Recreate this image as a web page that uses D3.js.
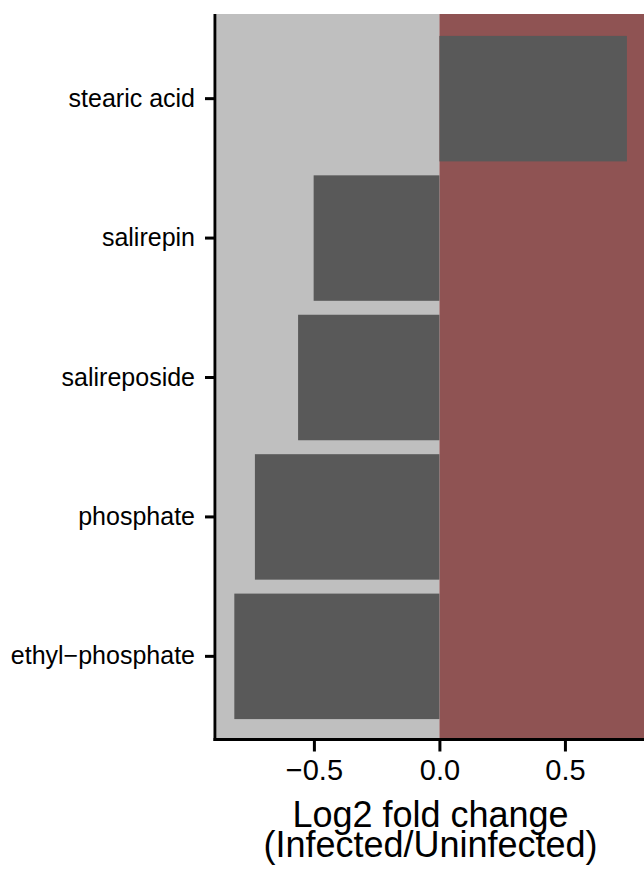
<!DOCTYPE html>
<html>
<head>
<meta charset="utf-8">
<script src="https://cdn.jsdelivr.net/npm/d3@7"></script>
<style>
  body { margin: 0; background: #fff; }
  text { font-family: "Liberation Sans", Arial, Helvetica, sans-serif; }
</style>
</head>
<body>
<div id="chart"></div>
<script>
// data
const metabolites = ["stearic acid", "salirepin", "salireposide", "phosphate", "ethyl\u2212phosphate"];
const log2fc = [0.747, -0.501, -0.563, -0.735, -0.817];
const xTicks = [-0.5, 0.0, 0.5];
const xDomain = [-0.886, 0.815];
const titleLines = ["Log2 fold change", "(Infected/Uninfected)"];

const width = 644, height = 874;
const margin = {top: 14, right: 0, bottom: 136, left: 217};
const panelBottom = height - margin.bottom;

const svg = d3.select("#chart")
    .append("svg")
    .attr("width", width)
    .attr("height", height);

const x = d3.scaleLinear()
    .domain(xDomain)
    .range([margin.left, width - margin.right]);

const y = d3.scaleBand()
    .domain(metabolites)
    .range([margin.top + 1, panelBottom + 2])
    .paddingInner(0.1)
    .paddingOuter(0.15);

// background halves: grey for negative, red for positive
svg.append("rect")
    .attr("x", x(xDomain[0]))
    .attr("y", margin.top)
    .attr("width", x(0) - x(xDomain[0]))
    .attr("height", panelBottom - margin.top)
    .style("fill", "#bfbfbf");

svg.append("rect")
    .attr("x", x(0))
    .attr("y", margin.top)
    .attr("width", x(xDomain[1]) - x(0))
    .attr("height", panelBottom - margin.top)
    .style("fill", "#8f5353");

// bars
svg.append("g")
    .selectAll("rect")
    .data(metabolites)
    .join("rect")
    .attr("x", (d, i) => x(Math.min(0, log2fc[i])))
    .attr("y", d => y(d))
    .attr("width", (d, i) => Math.abs(x(log2fc[i]) - x(0)))
    .attr("height", y.bandwidth())
    .style("fill", "#595959");

// x axis
const xAxis = svg.append("g")
    .attr("transform", "translate(0," + (panelBottom + 1.5) + ")")
    .call(d3.axisBottom(x).tickValues(xTicks).tickFormat(d3.format(".1f")).tickSize(12).tickPadding(8));
xAxis.select(".domain")
    .attr("d", "M" + (margin.left - 3.5) + ",0H" + width)
    .style("stroke", "#000")
    .style("stroke-width", 3);
xAxis.selectAll(".tick line").style("stroke", "#000").style("stroke-width", 3);
xAxis.selectAll(".tick text")
    .style("font-size", "29px")
    .style("fill", "#000");

// y axis
const yAxis = svg.append("g")
    .attr("transform", "translate(" + (margin.left - 2) + ",0)")
    .call(d3.axisLeft(y).tickSize(10).tickPadding(10));
yAxis.select(".domain")
    .attr("d", "M0," + margin.top + "V" + (panelBottom + 3))
    .style("stroke", "#000")
    .style("stroke-width", 3);
yAxis.selectAll(".tick line").style("stroke", "#000").style("stroke-width", 3);
yAxis.selectAll(".tick text")
    .style("font-size", "25px")
    .style("fill", "#000");

// x title, two lines
svg.append("text")
    .attr("text-anchor", "middle")
    .style("font-size", "36px")
    .selectAll("tspan")
    .data(titleLines)
    .join("tspan")
    .attr("x", (x.range()[0] + x.range()[1]) / 2)
    .attr("y", (d, i) => 827 + i * 30)
    .text(d => d);
</script>
</body>
</html>
